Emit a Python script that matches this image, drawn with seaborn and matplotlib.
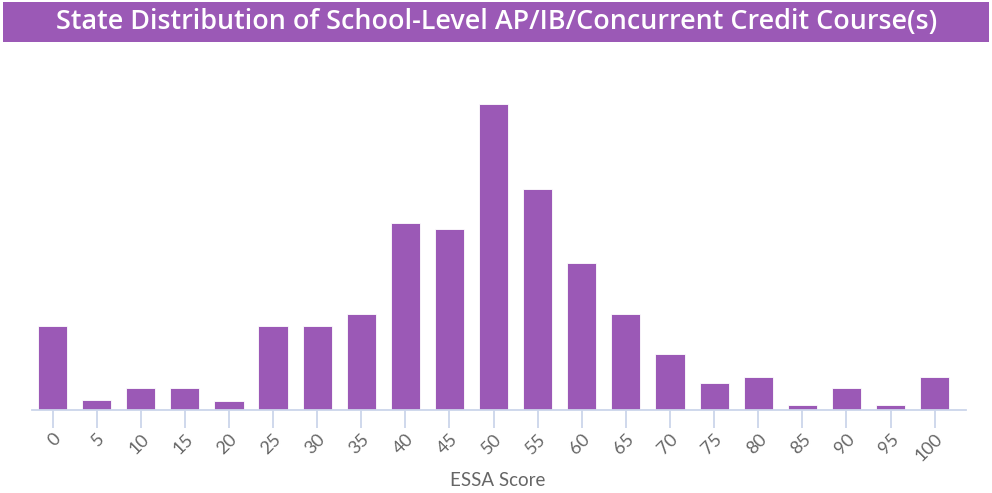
import matplotlib
matplotlib.use("Agg")
import matplotlib.pyplot as plt
from matplotlib.patches import Rectangle
import seaborn as sns
import pandas as pd

# ESSA score buckets and number of schools in each
scores = ["0", "5", "10", "15", "20", "25", "30", "35", "40", "45", "50",
          "55", "60", "65", "70", "75", "80", "85", "90", "95", "100"]
schools = [84, 10, 22, 22, 9, 84, 84, 96, 187, 181, 306,
           221, 147, 96, 56, 27, 33, 5, 22, 5, 33]

title_text = "State Distribution of School-Level AP/IB/Concurrent Credit Course(s)"
x_label = "ESSA Score"

PURPLE = "#9b59b6"
AXIS_BLUE = "#ccd6eb"
LABEL_GREY = "#666666"

sns.set_theme(style="white")
plt.rcParams["font.family"] = ["Lato", "DejaVu Sans"]

W, H = 992, 493
fig = plt.figure(figsize=(W / 100, H / 100), dpi=100)

# pixel-space overlay for the title banner and the axis title
overlay = fig.add_axes([0, 0, 1, 1], zorder=0)
overlay.set_xlim(0, W)
overlay.set_ylim(H, 0)
overlay.axis("off")
overlay.add_patch(Rectangle((3, 2), W - 6, 40, facecolor=PURPLE,
                            edgecolor="none"))
overlay.text(W / 2 + 1, 22.5, title_text, color="white", fontsize=19.4,
             fontweight="semibold", ha="center", va="center",
             family=["Open Sans", "DejaVu Sans"])
overlay.text(498, 481, x_label, color=LABEL_GREY, fontsize=13.5,
             ha="center", va="center")

# plot area: baseline at y=410px, axis line from x=32 to x=966
left, right, base, top = 32, 966, 410, 60
ax = fig.add_axes([left / W, (H - base) / H, (right - left) / W, (base - top) / H],
                  zorder=1)
ax.patch.set_alpha(0)

df = pd.DataFrame({"score": scores, "schools": schools})
sns.barplot(data=df, x="score", y="schools", order=scores, color=PURPLE,
            saturation=1, width=0.66, edgecolor="white", linewidth=0.6, ax=ax)

ax.set_xlim(-0.465, len(scores) - 1 + 0.71)
ax.set_ylim(0, base - top)
ax.set_yticks([])
ax.set_ylabel("")
ax.set_xlabel("")
for side in ("top", "right", "left"):
    ax.spines[side].set_visible(False)
ax.spines["bottom"].set_color(AXIS_BLUE)
ax.spines["bottom"].set_linewidth(1.3)

ax.tick_params(axis="x", which="major", bottom=True, length=13, width=1.3,
               color=AXIS_BLUE, pad=2, labelsize=13, labelcolor=LABEL_GREY)
for lbl in ax.get_xticklabels():
    lbl.set_rotation(45)
    lbl.set_ha("right")
    lbl.set_va("top")
    lbl.set_rotation_mode("anchor")

fig.savefig("out.png", dpi=100)
